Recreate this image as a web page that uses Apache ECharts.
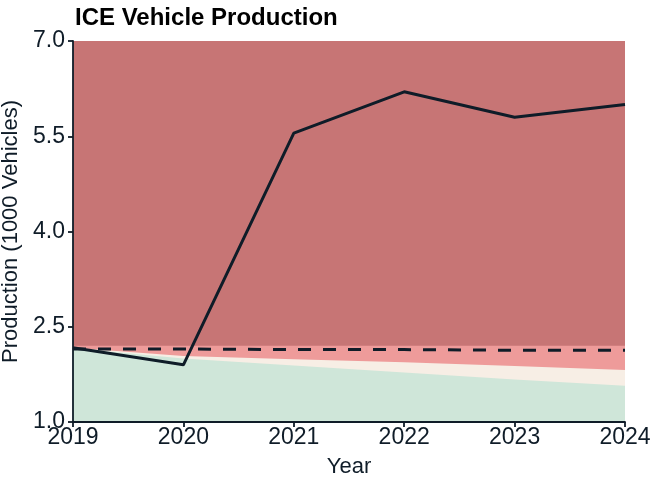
<!DOCTYPE html>
<html>
<head>
<meta charset="utf-8">
<script src="https://cdn.jsdelivr.net/npm/echarts@6/dist/echarts.min.js"></script>
<style>
  html, body { margin: 0; padding: 0; background: #fff; }
  #chart { width: 650px; height: 478px; }
</style>
</head>
<body>
<div id="chart"></div>
<script>
const years = ["2019", "2020", "2021", "2022", "2023", "2024"];
// band tops (stacked look, drawn as overlapping areas)
const redTop = [7.0, 7.0, 7.0, 7.0, 7.0, 7.0];
const pinkTop = [2.2, 2.2, 2.2, 2.2, 2.2, 2.2];
const creamTop = [2.17, 2.04, 1.99, 1.94, 1.88, 1.82];
const greenTop = [2.16, 2.0, 1.89, 1.78, 1.67, 1.57];
const threshold = [2.15, 2.15, 2.14, 2.14, 2.13, 2.13];
const production = [2.17, 1.9, 5.55, 6.2, 5.8, 6.0];
const yTicks = [1.0, 2.5, 4.0, 5.5, 7.0];

const ink = "#0f1c28";

function band(name, data, color, z) {
  return {
    name: name,
    type: "line",
    data: data,
    symbol: "none",
    lineStyle: { width: 0 },
    areaStyle: { color: color, opacity: 1, origin: "start" },
    z: z,
    silent: true,
  };
}

const myChart = echarts.init(document.getElementById("chart"));
myChart.setOption({
  animation: false,
  title: {
    text: "ICE Vehicle Production",
    left: 70,
    top: 1,
    textStyle: {
      fontFamily: "Liberation Sans",
      fontWeight: "bold",
      fontSize: 24,
      color: "#000",
    },
  },
  grid: {
    left: 73,
    right: 25,
    top: 41,
    bottom: 56,
    outerBoundsMode: "none",
  },
  xAxis: {
    type: "category",
    data: years,
    boundaryGap: false,
    name: "Year",
    nameLocation: "middle",
    nameGap: 34,
    nameTextStyle: { fontFamily: "Liberation Sans", fontSize: 22, color: ink },
    axisLine: { lineStyle: { color: ink, width: 1.8 } },
    axisTick: { length: 5, lineStyle: { color: ink, width: 1.8 } },
    axisLabel: { fontFamily: "Liberation Sans", fontSize: 23, color: ink, margin: 4 },
    splitLine: { show: false },
    z: 10,
  },
  yAxis: {
    type: "value",
    min: 1.0,
    max: 7.0,
    interval: 1.5,
    name: "Production (1000 Vehicles)",
    nameLocation: "middle",
    nameGap: 50,
    nameTextStyle: { fontFamily: "Liberation Sans", fontSize: 22, color: ink },
    axisLine: { show: true, lineStyle: { color: ink, width: 1.8 } },
    axisTick: { show: true, length: 5, lineStyle: { color: ink, width: 1.8 } },
    axisLabel: {
      fontFamily: "Liberation Sans",
      fontSize: 23,
      color: ink,
      margin: 8,
      formatter: (v) => (yTicks.includes(v) ? v.toFixed(1) : ""),
    },
    splitLine: { show: false },
    z: 10,
  },
  series: [
    band("ICE", redTop, "#c77575", 1),
    band("Upper", pinkTop, "#ee9b9a", 2),
    band("Middle", creamTop, "#f7eee5", 3),
    band("Lower", greenTop, "#cfe6d9", 4),
    {
      name: "Threshold",
      type: "line",
      data: threshold,
      symbol: "none",
      lineStyle: { color: ink, width: 3, type: [13, 12] },
      z: 5,
    },
    {
      name: "Production",
      type: "line",
      data: production,
      symbol: "none",
      lineStyle: { color: ink, width: 3 },
      z: 6,
    },
  ],
});
</script>
</body>
</html>
